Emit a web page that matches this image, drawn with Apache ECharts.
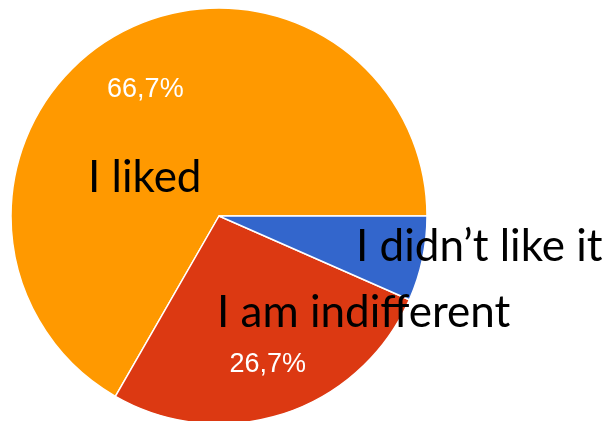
<!DOCTYPE html>
<html>
<head>
<meta charset="utf-8">
<script src="https://cdn.jsdelivr.net/npm/echarts@6/dist/echarts.min.js"></script>
<style>
  html, body { margin: 0; padding: 0; background: #ffffff; }
  #chart { width: 615px; height: 421px; }
</style>
</head>
<body>
<div id="chart"></div>
<script>
// Survey answers and their shares (percent)
const categories = ['I liked', 'I am indifferent', 'I didn\u2019t like it'];
const shares = [66.7, 26.7, 6.6];
const colors = ['#FF9900', '#DC3912', '#3366CC'];

// Where each answer's name is written (left edge, vertical middle)
const nameAnchors = [
  { x: 88, y: 178 },
  { x: 217, y: 313 },
  { x: 356, y: 247 }
];
// Small nudges for the percentage labels
const pctNudge = [
  { dx: 3, dy: 6 },
  { dx: 1, dy: 3 },
  { dx: 0, dy: 0 }
];

const pieCenter = [219, 216];
const pieRadius = 208;

const sliceData = categories.map((name, i) => ({
  name: name,
  value: shares[i],
  itemStyle: { color: colors[i] }
}));

const chart = echarts.init(document.getElementById('chart'), null, { renderer: 'canvas' });

chart.setOption({
  backgroundColor: '#ffffff',
  animation: false,
  series: [
    {
      // the slices, with the answer names in large type
      type: 'pie',
      center: pieCenter,
      radius: [0, pieRadius],
      startAngle: 0,
      clockwise: false,
      silent: true,
      data: sliceData,
      itemStyle: { borderColor: '#ffffff', borderWidth: 1.5 },
      label: {
        show: true,
        position: 'inside',
        formatter: '{b}',
        color: '#000000',
        fontFamily: 'Lato',
        fontSize: 44,
        overflow: 'none'
      },
      labelLine: { show: false },
      labelLayout: function (params) {
        const a = nameAnchors[params.dataIndex];
        return { x: a.x, y: a.y, align: 'left', verticalAlign: 'middle', hideOverlap: false };
      }
    },
    {
      // transparent copy carrying the percentage labels
      type: 'pie',
      center: pieCenter,
      radius: [92, pieRadius],
      startAngle: 0,
      clockwise: false,
      silent: true,
      z: 3,
      data: categories.map((name, i) => ({
        name: name,
        value: shares[i],
        label: { show: shares[i] > 10 }
      })),
      itemStyle: { color: 'rgba(0,0,0,0)', borderWidth: 0 },
      label: {
        show: true,
        position: 'inside',
        formatter: function (p) { return p.value.toFixed(1).replace('.', ',') + '%'; },
        color: '#ffffff',
        fontFamily: 'Liberation Sans, Arial, sans-serif',
        fontSize: 27
      },
      labelLine: { show: false },
      labelLayout: function (params) {
        const n = pctNudge[params.dataIndex];
        return { dx: n.dx, dy: n.dy };
      }
    }
  ]
});
</script>
</body>
</html>
